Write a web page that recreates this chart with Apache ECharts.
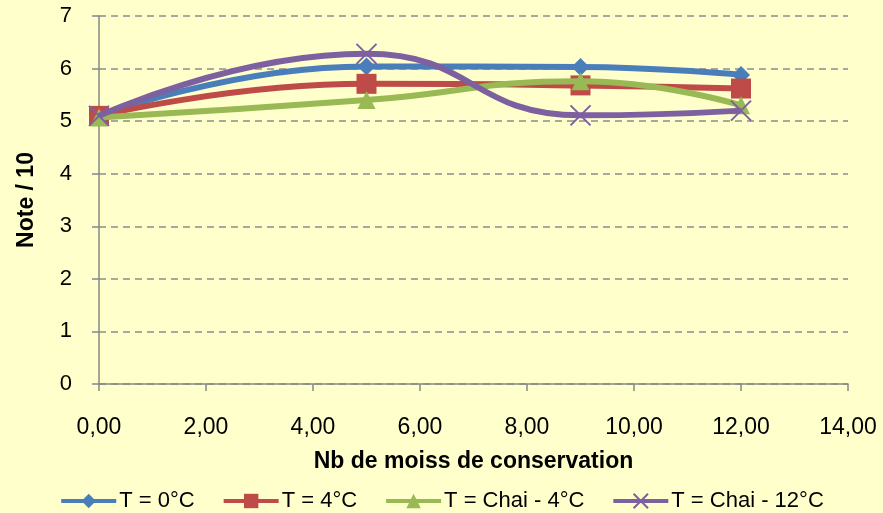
<!DOCTYPE html>
<html><head><meta charset="utf-8">
<script src="https://cdn.jsdelivr.net/npm/echarts@6/dist/echarts.min.js"></script>
<style>html,body{margin:0;padding:0;background:#FFFFCC;}#c{width:883px;height:513px;}</style>
</head><body><div id="c"></div>
<script>
const months = [0, 5, 9, 12];
const seriesNames = ['T = 0°C', 'T = 4°C', 'T = Chai - 4°C', 'T = Chai - 12°C'];
const t0 = [5.10, 6.04, 6.03, 5.88];
const t4 = [5.10, 5.71, 5.68, 5.62];
const chai4 = [5.07, 5.40, 5.76, 5.30];
const chai12 = [5.10, 6.28, 5.11, 5.20];
const values = [t0, t4, chai4, chai12];
const colors = ['#4A7EBB', '#BE4B48', '#98B954', '#7D60A0'];
const symbols = ['diamond', 'rect', 'triangle', 'path://M0,0L10,10M10,0L0,10'];
const sizes = [18, 20, 18, 20];

const chart = echarts.init(document.getElementById('c'));
const font = '"Liberation Sans", "DejaVu Sans", sans-serif';
chart.setOption({
  backgroundColor: '#FFFFCC',
  animation: false,
  textStyle: {fontFamily: font},
  grid: {left: 99, right: 35, top: 16, bottom: 129, containLabel: false, outerBoundsMode: 'none'},
  legend: {
    top: 485, left: 'center', itemGap: 27, itemWidth: 55, itemHeight: 18,
    textStyle: {fontSize: 22, color: '#000', fontFamily: font, padding: [0, 0, 0, -2]},
    lineStyle: {width: 4},
    data: seriesNames
  },
  xAxis: {
    type: 'value', min: 0, max: 14, interval: 2,
    name: 'Nb de moiss de conservation', nameLocation: 'middle', nameGap: 66,
    nameTextStyle: {fontSize: 23, fontWeight: 'bold', color: '#000'},
    axisLine: {show: true, lineStyle: {color: '#868686', width: 1.5}},
    axisTick: {show: true, length: 7, lineStyle: {color: '#868686', width: 1.5}},
    axisLabel: {fontSize: 23, color: '#000', margin: 32, formatter: v => v.toFixed(2).replace('.', ',')},
    splitLine: {show: false}
  },
  yAxis: {
    type: 'value', min: 0, max: 7, interval: 1,
    name: 'Note / 10', nameLocation: 'middle', nameGap: 61, nameRotate: 90,
    nameTextStyle: {fontSize: 23, fontWeight: 'bold', color: '#000'},
    axisLine: {show: true, lineStyle: {color: '#868686', width: 1.5}},
    axisTick: {show: true, length: 7, lineStyle: {color: '#868686', width: 1.5}},
    axisLabel: {fontSize: 22, color: '#000', margin: 27},
    splitLine: {show: true, lineStyle: {color: '#8C8C8C', type: [7, 5], width: 1.5}}
  },
  series: seriesNames.map((n, i) => ({
    name: n, type: 'line', smooth: 0.5,
    data: months.map((m, j) => [m, values[i][j]]),
    symbol: symbols[i], symbolSize: sizes[i],
    lineStyle: {color: colors[i], width: 6},
    itemStyle: i === 3 ? {color: colors[i], borderColor: colors[i], borderWidth: 2} : {color: colors[i]},
    z: i === 3 ? 5 : 2 + i
  }))
});
</script></body></html>
